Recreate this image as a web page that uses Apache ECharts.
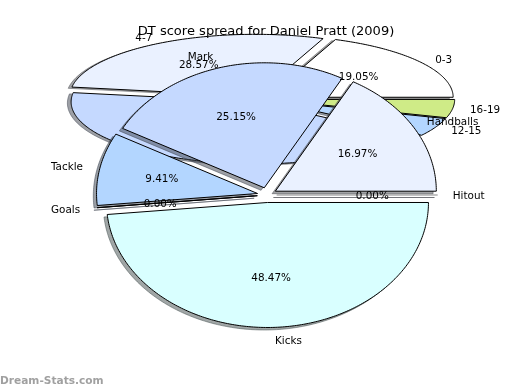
<!DOCTYPE html>
<html><head><meta charset="utf-8">
<style>html,body{margin:0;padding:0;background:#fff}#c{width:520px;height:390px}</style>
<script src="https://cdn.jsdelivr.net/npm/echarts@6/dist/echarts.min.js"></script>
</head><body><div id="c"></div>
<script>
const titleText = 'DT score spread for Daniel Pratt (2009)';
const watermark = 'Dream-Stats.com';
// Back pie: score spread
const spreadNames = ['0-3','4-7','8-11','12-15','16-19'];
const spreadValues = [19.05,28.57,42.86,4.76,4.76];
const spreadColors = ['#ffffff','#eaf1ff','#c5d9ff','#b3d6ff','#cfeb87'];
const spreadShownNames = ['0-3','4-7','12-15','16-19'];
const spreadShownPcts = ['0-3','4-7'];
// Front pie: stat breakdown
const statNames = ['Hitout','Handballs','Mark','Tackle','Goals','Kicks'];
const statValues = [0,16.97,25.15,9.41,0,48.47];
const statColors = ['#eaf1ff','#eaf1ff','#c5d9ff','#b3d6ff','#c5d9ff','#d9ffff'];

const W = 520, H = 390;
const FONT = '"DejaVu Sans"';
const chart = echarts.init(document.getElementById('c'), null, {renderer:'canvas', width:W, height:H});

function wedges(values){
  const total = values.reduce((a,b)=>a+b,0);
  let acc = 0;
  return values.map(v=>{
    const a0 = acc/total*2*Math.PI; acc += v;
    const a1 = acc/total*2*Math.PI;
    return {a0,a1,mid:(a0+a1)/2};
  });
}
function wedgePoints(w, explode, ox, oy){
  const ax = explode*Math.cos(w.mid)+ox, ay = explode*Math.sin(w.mid)+oy;
  const pts = [[ax,ay]];
  const n = Math.max(1,Math.ceil((w.a1-w.a0)/0.015));
  for(let i=0;i<=n;i++){
    const t = w.a0+(w.a1-w.a0)*i/n;
    pts.push([ax+Math.cos(t),ay+Math.sin(t)]);
  }
  return pts;
}
function pctText(v){return v.toFixed(2)+'%';}
function darken(hex){
  const c = echarts.color.parse(hex);
  return `rgba(${c[0]*0.3},${c[1]*0.3},${c[2]*0.3},0.5)`;
}
function shadowSeries(axisIdx, values, colors, explode, so){
  const ws = wedges(values);
  return {type:'custom', coordinateSystem:'cartesian2d', xAxisIndex:axisIdx, yAxisIndex:axisIdx,
    clip:false, silent:true, data:values.map((v,i)=>[i,v]), encode:{x:0,y:1},
    renderItem(p,api){
      const i=p.dataIndex, c=darken(colors[i]);
      return {type:'polygon', shape:{points:wedgePoints(ws[i],explode,-so,-so).map(q=>api.coord(q))},
        style:{fill:c,stroke:c,lineWidth:1}};
    }};
}
function wedgeSeries(axisIdx, names, values, colors, explode, showName, showPct){
  const ws = wedges(values);
  return {type:'custom', coordinateSystem:'cartesian2d', xAxisIndex:axisIdx, yAxisIndex:axisIdx,
    clip:false, silent:true, data:values.map((v,i)=>[i,v]), encode:{x:0,y:1},
    renderItem(p,api){
      const i=p.dataIndex, w=ws[i], ch=[];
      ch.push({type:'polygon', shape:{points:wedgePoints(w,explode,0,0).map(q=>api.coord(q))},
        style:{fill:colors[i],stroke:values[i]===0&&w.a0===0?'rgba(0,0,0,0.25)':'#000',lineWidth:1}});
      const ax=explode*Math.cos(w.mid), ay=explode*Math.sin(w.mid);
      const cx=Math.cos(w.mid), cy=Math.sin(w.mid);
      if(showName(names[i])){
        const q=api.coord([ax+1.1*cx,ay+1.1*cy]);
        ch.push({type:'text',z2:5,style:{x:q[0]-1,y:q[1]+1,text:names[i],fill:'#000',font:'10.4px '+FONT,
          textAlign:cx>0?'left':'right',textVerticalAlign:'middle'}});
      }
      if(showPct(names[i])){
        const q=api.coord([ax+0.6*cx,ay+0.6*cy]);
        ch.push({type:'text',z2:5,style:{x:q[0]-1,y:q[1]+1,text:pctText(values[i]),fill:'#000',font:'10.4px '+FONT,
          textAlign:'center',textVerticalAlign:'middle'}});
      }
      return {type:'group',children:ch};
    }};
}
function axes(cx,cy,rx,ry){
  return {
    x:{type:'value',show:false,gridIndex:0,min:-cx/rx,max:(W-cx)/rx},
    y:{type:'value',show:false,gridIndex:0,min:-(H-cy)/ry,max:cy/ry}
  };
}
const back = axes(260,99,185.5,62);
const front = axes(267,195,161,125);
chart.setOption({
  animation:false,
  backgroundColor:'#fff',
  title:{text:titleText,left:261,top:20,textAlign:'center',
    textStyle:{fontFamily:FONT,fontWeight:'normal',fontSize:13.05,color:'#000'}},
  grid:[{left:0,top:0,width:W,height:H}],
  xAxis:[back.x,front.x],
  yAxis:[back.y,front.y],
  series:[
    shadowSeries(0,spreadValues,spreadColors,0.05,0.02),
    wedgeSeries(0,spreadNames,spreadValues,spreadColors,0.05,n=>spreadShownNames.includes(n),n=>spreadShownPcts.includes(n)),
    shadowSeries(1,statValues,statColors,0.06,0.02),
    wedgeSeries(1,statNames,statValues,statColors,0.06,()=>true,()=>true)
  ],
  graphic:[{type:'text',left:0,top:376,z:100,style:{text:watermark,fill:'rgba(120,120,120,0.7)',font:'bold 10.6px '+FONT}}]
});
</script></body></html>
